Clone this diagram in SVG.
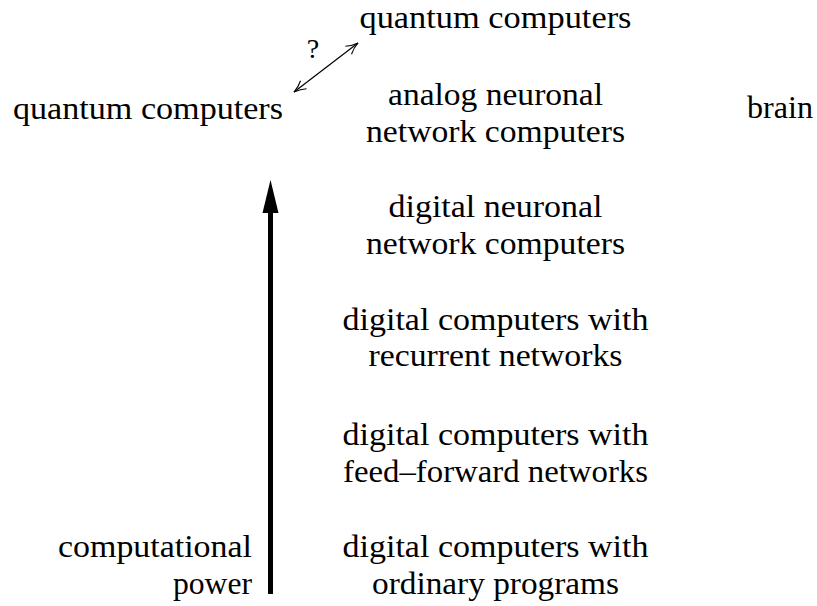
<svg xmlns="http://www.w3.org/2000/svg" width="817" height="606" viewBox="0 0 817 606">
<style>
.c{text-anchor:middle}
.r{text-anchor:end}
</style>
<defs>
<marker id="chev" viewBox="0 0 14 12" refX="13" refY="6" markerWidth="14" markerHeight="12" markerUnits="userSpaceOnUse" orient="auto-start-reverse">
<path d="M1,1 Q6,4.5 13,6 Q6,7.5 1,11" fill="none" stroke="#000" stroke-width="1.1"/>
</marker>
</defs>
<rect width="817" height="606" fill="#fff"/>
<g font-family="'Liberation Serif', 'DejaVu Serif', serif" font-size="32" fill="#000">
<g id="connectors">
<line x1="294" y1="92" x2="358" y2="43" stroke="#000" stroke-width="1.2" marker-start="url(#chev)" marker-end="url(#chev)"/>
<text x="313" y="58" class="c" font-size="28">?</text>
<line x1="270.5" y1="594" x2="270.5" y2="210" stroke="#000" stroke-width="5"/>
<polygon points="270.5,180 262.5,213 278.5,213" fill="#000"/>
</g>
<g id="quantum-top"><text x="495.5" y="28" class="c" font-size="31" textLength="272" lengthAdjust="spacingAndGlyphs">quantum computers</text></g>
<g id="quantum-left"><text x="13" y="119" textLength="270" lengthAdjust="spacingAndGlyphs">quantum computers</text></g>
<g id="brain"><text x="747" y="118" textLength="66" lengthAdjust="spacingAndGlyphs">brain</text></g>
<g id="analog">
<text x="495.5" y="105" class="c" textLength="215" lengthAdjust="spacingAndGlyphs">analog neuronal</text>
<text x="495.5" y="142" class="c" textLength="259" lengthAdjust="spacingAndGlyphs">network computers</text>
</g>
<g id="digital-neuronal">
<text x="495.5" y="217" class="c" textLength="214" lengthAdjust="spacingAndGlyphs">digital neuronal</text>
<text x="495.5" y="254" class="c" textLength="259" lengthAdjust="spacingAndGlyphs">network computers</text>
</g>
<g id="recurrent">
<text x="495.5" y="330" class="c" textLength="306" lengthAdjust="spacingAndGlyphs">digital computers with</text>
<text x="495.5" y="366" class="c" textLength="254" lengthAdjust="spacingAndGlyphs">recurrent networks</text>
</g>
<g id="feedforward">
<text x="495.5" y="445" class="c" textLength="306" lengthAdjust="spacingAndGlyphs">digital computers with</text>
<text x="495.5" y="482" class="c" textLength="305" lengthAdjust="spacingAndGlyphs">feed–forward networks</text>
</g>
<g id="ordinary">
<text x="495.5" y="557" class="c" textLength="306" lengthAdjust="spacingAndGlyphs">digital computers with</text>
<text x="495.5" y="594" class="c" textLength="247" lengthAdjust="spacingAndGlyphs">ordinary programs</text>
</g>
<g id="power-label">
<text x="252" y="557" class="r" textLength="194" lengthAdjust="spacingAndGlyphs">computational</text>
<text x="252" y="594" class="r" textLength="79" lengthAdjust="spacingAndGlyphs">power</text>
</g>
</g>
</svg>
